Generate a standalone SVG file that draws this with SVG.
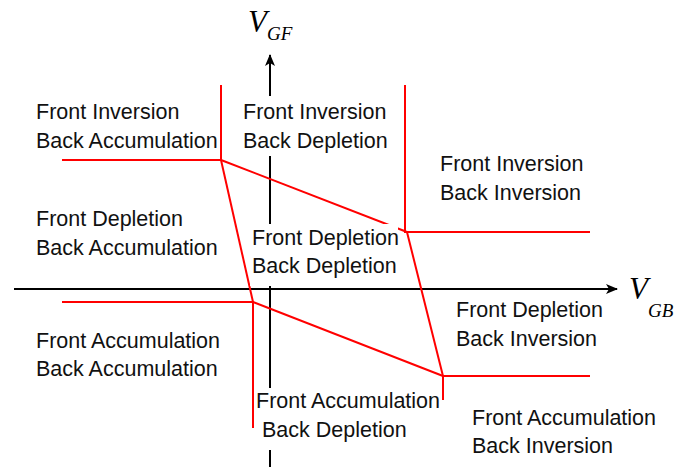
<svg xmlns="http://www.w3.org/2000/svg" width="683" height="470" viewBox="0 0 683 470">
<style>
.lbl{font-family:"Liberation Sans",Arial,sans-serif;font-size:21.5px;fill:#111;}
.ax{stroke:#000;stroke-width:2;fill:none;}
.rd{stroke:#ff0000;stroke-width:2;fill:none;stroke-linejoin:miter;}
.v{font-family:"Liberation Serif","Times New Roman",serif;font-style:italic;fill:#000;}
.bg{fill:#fff;}
</style>
<defs>
<marker id="ah" viewBox="0 0 12 10" refX="11" refY="5" markerWidth="12" markerHeight="10" markerUnits="userSpaceOnUse" orient="auto">
<path d="M0,0 L12,5 L0,10 L3,5 Z" fill="#000"/>
</marker>
</defs>
<rect width="683" height="470" fill="#fff"/>
<g id="connectors">
<line class="ax" x1="14" y1="289" x2="617" y2="289" marker-end="url(#ah)"/>
<line class="ax" x1="270" y1="467" x2="270" y2="55" marker-end="url(#ah)"/>
<polyline class="rd" points="221,85 221,160 62,160"/>
<polyline class="rd" points="405,85 405,232 590,232"/>
<line class="rd" x1="221" y1="160" x2="407" y2="232"/>
<line class="rd" x1="221" y1="160" x2="253" y2="302"/>
<polyline class="rd" points="62,302 253,302 253,428"/>
<line class="rd" x1="253" y1="302" x2="443" y2="376"/>
<line class="rd" x1="407" y1="232" x2="443" y2="376"/>
<polyline class="rd" points="443,400 443,376 590,376"/>
</g>
<g id="axis-labels">
<text class="v" x="248" y="32" font-size="31">V<tspan dy="8" font-size="19">GF</tspan></text>
<text class="v" x="629" y="299" font-size="31">V<tspan dy="18" font-size="19">GB</tspan></text>
</g>
<g id="fi-ba"><text class="lbl" x="36" y="119">Front Inversion</text><text class="lbl" x="36" y="148">Back Accumulation</text></g>
<g id="fi-bd"><rect class="bg" x="238" y="96" width="160" height="60"/><text class="lbl" x="243" y="119">Front Inversion</text><text class="lbl" x="243" y="148">Back Depletion</text></g>
<g id="fi-bi"><text class="lbl" x="440" y="171">Front Inversion</text><text class="lbl" x="440" y="200">Back Inversion</text></g>
<g id="fd-ba"><text class="lbl" x="36" y="226">Front Depletion</text><text class="lbl" x="36" y="255">Back Accumulation</text></g>
<g id="fd-bd"><rect class="bg" x="250" y="224" width="148" height="62"/><text class="lbl" x="252" y="245">Front Depletion</text><text class="lbl" x="252" y="273">Back Depletion</text></g>
<g id="fd-bi"><text class="lbl" x="456" y="317">Front Depletion</text><text class="lbl" x="456" y="346">Back Inversion</text></g>
<g id="fa-ba"><text class="lbl" x="36" y="348">Front Accumulation</text><text class="lbl" x="36" y="376">Back Accumulation</text></g>
<g id="fa-bd"><rect class="bg" x="256" y="388" width="185" height="62"/><text class="lbl" x="256" y="408">Front Accumulation</text><text class="lbl" x="262" y="437">Back Depletion</text></g>
<g id="fa-bi"><text class="lbl" x="472" y="425">Front Accumulation</text><text class="lbl" x="472" y="453">Back Inversion</text></g>
</svg>
